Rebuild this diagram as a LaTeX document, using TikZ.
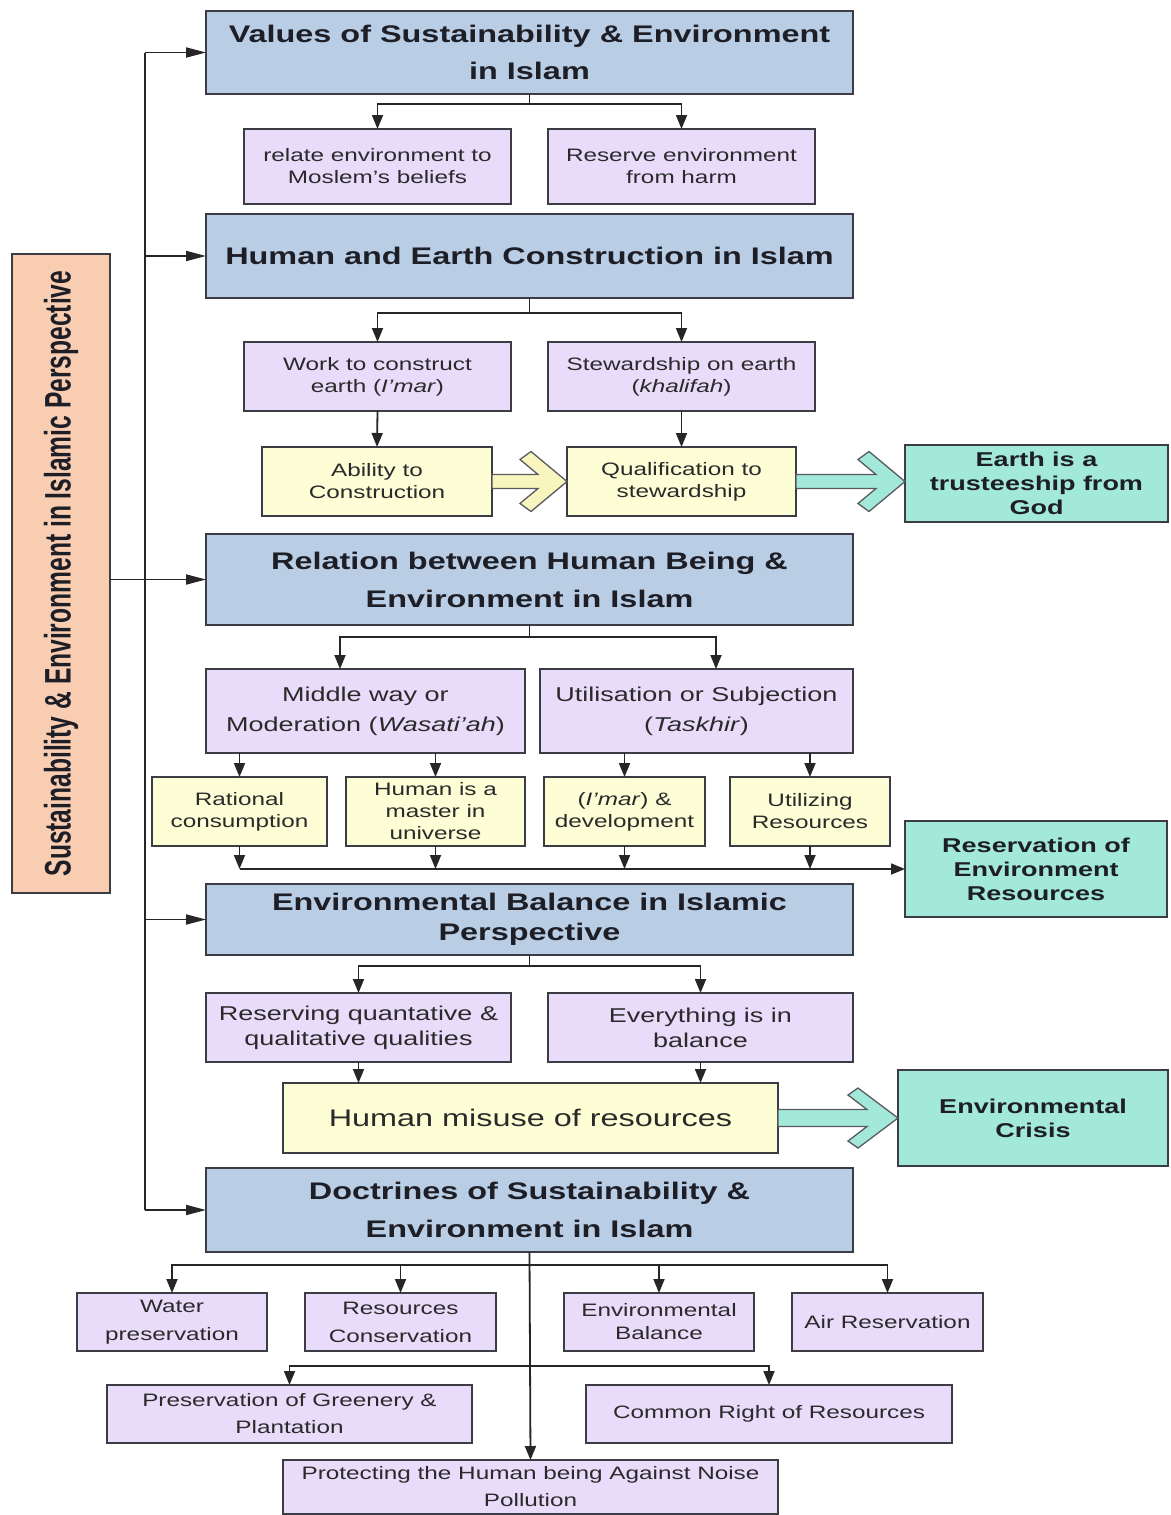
\documentclass[tikz,border=0pt]{standalone}
\usepackage{fontspec}
\setmainfont{Liberation Sans}[FakeStretch=1.35]
\newfontfamily\sidefont{Liberation Sans}
\usetikzlibrary{arrows.meta,calc}

\definecolor{hdrblue}{HTML}{B9CDE5}
\definecolor{lav}{HTML}{E8DCFA}
\definecolor{cream}{HTML}{FDFDD6}
\definecolor{mint}{HTML}{A3E9D9}
\definecolor{peach}{HTML}{F9CDB1}
\definecolor{edge}{HTML}{3C3C44}
\definecolor{ink}{HTML}{1E1E26}
\definecolor{txt}{HTML}{2A2A2A}
\definecolor{arrowyel}{HTML}{F8F6BE}

\tikzset{
  box/.style={draw=edge, line width=1.9pt, inner sep=0pt, outer sep=0pt, align=center, text=txt},
  hdr/.style={box, fill=hdrblue, text=ink, font=\bfseries\fontsize{24}{37}\selectfont},
  lavbox/.style={box, fill=lav, font=\fontsize{18}{22}\selectfont},
  creambox/.style={box, fill=cream, font=\fontsize{18}{22}\selectfont},
  mintbox/.style={box, fill=mint, text=ink, font=\bfseries\fontsize{20}{24}\selectfont},
  conn/.style={draw=black!85, line width=1.8pt},
  arr/.style={conn, -{Triangle[length=14pt,width=11pt]}},
  sidearr/.style={conn, -{Triangle[length=20pt,width=10pt]}},
  fat/.style={draw=edge!85, line width=1.3pt, line join=miter},
}

\begin{document}
\begin{tikzpicture}[x=1pt,y=-1pt]
\useasboundingbox[fill=white] (0,0) rectangle (1170,1515);

% ---- left title bar ----
\node[box, fill=peach, rotate=90, minimum width=639pt, minimum height=98pt, text=ink] (side) at (61,573.5)
  {\scalebox{1}[1.5]{\sidefont\bfseries\fontsize{24.6}{26}\selectfont Sustainability \& Environment in Islamic Perspective}};

% ---- main headers ----
\node[hdr, minimum width=647pt, minimum height=83pt] (vals) at (529.5,52.5)
  {Values of Sustainability \& Environment\\in Islam};
\node[hdr, minimum width=647pt, minimum height=84pt] (hec) at (529.5,256)
  {Human and Earth Construction in Islam};
\node[hdr, minimum width=647pt, minimum height=91pt, font=\bfseries\fontsize{24}{38}\selectfont] (rel) at (529.5,579.5)
  {Relation between Human Being \&\\Environment in Islam};
\node[hdr, minimum width=647pt, minimum height=71pt, font=\bfseries\fontsize{24}{30}\selectfont] (eb) at (529.5,919.5)
  {Environmental Balance in Islamic\\Perspective};
\node[hdr, minimum width=647pt, minimum height=84pt, font=\bfseries\fontsize{24}{38}\selectfont] (doc) at (529.5,1210)
  {Doctrines of Sustainability \&\\Environment in Islam};

% ---- values ----
\node[lavbox, minimum width=267pt, minimum height=75pt] (r1) at (377.5,166.5)
  {relate environment to\\Moslem’s beliefs};
\node[lavbox, minimum width=267pt, minimum height=75pt] (r2) at (681.5,166.5)
  {Reserve environment\\from harm};

% ---- construction ----
\node[lavbox, minimum width=267pt, minimum height=69pt] (w1) at (377.5,376.5)
  {Work to construct\\earth (\textit{I'mar})};
\node[lavbox, minimum width=267pt, minimum height=69pt] (w2) at (681.5,376.5)
  {Stewardship on earth\\(\textit{khalifah})};
\node[creambox, minimum width=230pt, minimum height=69pt] (ab) at (377,481.5)
  {Ability to\\Construction};
\node[creambox, minimum width=229pt, minimum height=69pt] (qu) at (681.5,481.5)
  {Qualification to\\stewardship};
\node[mintbox, minimum width=263pt, minimum height=77pt] (earth) at (1036.5,483.5)
  {Earth is a\\trusteeship from\\God};

% ---- relation ----
\node[lavbox, minimum width=319pt, minimum height=84pt, font=\fontsize{20}{30}\selectfont] (mid) at (365.5,711)
  {Middle way or\\Moderation (\textit{Wasati'ah})};
\node[lavbox, minimum width=313pt, minimum height=84pt, font=\fontsize{20}{30}\selectfont] (uti) at (696.5,711)
  {Utilisation or Subjection\\(\textit{Taskhir})};
\node[creambox, minimum width=175pt, minimum height=69pt] (rat) at (239.5,811.5)
  {Rational\\consumption};
\node[creambox, minimum width=179pt, minimum height=69pt] (hum) at (435.5,811.5)
  {Human is a\\master in\\universe};
\node[creambox, minimum width=161pt, minimum height=69pt] (ima) at (624.5,811.5)
  {(\textit{I'mar}) \&\\development};
\node[creambox, minimum width=160pt, minimum height=69pt] (utz) at (810,811.5)
  {Utilizing\\Resources};
\node[mintbox, minimum width=262pt, minimum height=96pt] (resv) at (1036,869)
  {Reservation of\\Environment\\Resources};

% ---- balance ----
\node[lavbox, minimum width=305pt, minimum height=69pt, font=\fontsize{20}{25}\selectfont] (req) at (358.5,1027.5)
  {Reserving quantative \&\\qualitative qualities};
\node[lavbox, minimum width=305pt, minimum height=69pt, font=\fontsize{20}{25}\selectfont] (evb) at (700.5,1027.5)
  {Everything is in\\balance};
\node[creambox, minimum width=495pt, minimum height=70pt, font=\fontsize{24}{28}\selectfont] (mis) at (530.5,1118)
  {Human misuse of resources};
\node[mintbox, minimum width=270pt, minimum height=96pt] (cri) at (1033,1118)
  {Environmental\\Crisis};

% ---- doctrines ----
\node[lavbox, minimum width=190pt, minimum height=58pt, font=\fontsize{18}{28}\selectfont] (wat) at (172,1322)
  {Water\\preservation};
\node[lavbox, minimum width=191pt, minimum height=58pt, font=\fontsize{18}{28}\selectfont] (rco) at (400.5,1322)
  {Resources\\Conservation};
\node[lavbox, minimum width=190pt, minimum height=58pt, font=\fontsize{18}{23}\selectfont] (enb) at (659,1322)
  {Environmental\\Balance};
\node[lavbox, minimum width=191pt, minimum height=58pt] (air) at (887.5,1322)
  {Air Reservation};
\node[lavbox, minimum width=365pt, minimum height=58pt, font=\fontsize{18}{27}\selectfont] (pgr) at (289.5,1414)
  {Preservation of Greenery \&\\Plantation};
\node[lavbox, minimum width=366pt, minimum height=58pt] (cmr) at (769,1414)
  {Common Right of Resources};
\node[lavbox, minimum width=495pt, minimum height=54pt, font=\fontsize{18}{27}\selectfont] (noi) at (530.5,1487)
  {Protecting the Human being Against Noise\\Pollution};

% ---- spine on the left ----
\coordinate (spine) at (145,0);
\draw[conn] (vals.west -| spine) -- (doc.west -| spine);
\draw[sidearr] (vals.west -| spine) -- (vals.west);
\draw[sidearr] (hec.west -| spine) -- (hec.west);
\draw[sidearr] (side.south |- rel.west) -- (rel.west);
\draw[sidearr] (eb.west -| spine) -- (eb.west);
\draw[sidearr] (doc.west -| spine) -- (doc.west);

% ---- branching connectors ----
\draw[conn] (vals.south) -- ++(0,10) coordinate (j1);
\draw[arr] (j1) -| (r1.north);
\draw[arr] (j1) -| (r2.north);

\draw[conn] (hec.south) -- ++(0,15) coordinate (j2);
\draw[arr] (j2) -| (w1.north);
\draw[arr] (j2) -| (w2.north);
\draw[arr] (w1.south) -- (ab.north);
\draw[arr] (w2.south) -- (qu.north);

\draw[conn] (rel.south) -- ++(0,12) coordinate (j3);
\draw[arr] (j3) -| ([xshift=-25.5pt]mid.north);
\draw[arr] (j3) -| ([xshift=19.5pt]uti.north);
\draw[arr] (rat.north |- mid.south) -- (rat.north);
\draw[arr] (hum.north |- mid.south) -- (hum.north);
\draw[arr] (ima.north |- uti.south) -- (ima.north);
\draw[arr] (utz.north |- uti.south) -- (utz.north);
\draw[arr] (rat.south) -- (rat.south |- resv.west);
\draw[arr] (hum.south) -- (hum.south |- resv.west);
\draw[arr] (ima.south) -- (ima.south |- resv.west);
\draw[arr] (utz.south) -- (utz.south |- resv.west);
\draw[arr] (rat.south |- resv.west) -- (resv.west);

\draw[conn] (eb.south) -- ++(0,11) coordinate (j4);
\draw[arr] (j4) -| (req.north);
\draw[arr] (j4) -| (evb.north);
\draw[arr] (req.south) -- (req.south |- mis.north);
\draw[arr] (evb.south) -- (evb.south |- mis.north);

\draw[arr] (doc.south) -- (noi.north);
\coordinate (j5) at ($(doc.south)+(0,13)$);
\coordinate (j6) at ($(doc.south)+(0,114)$);
\draw[arr] (j5) -| (wat.north);
\draw[arr] (j5) -| (rco.north);
\draw[arr] (j5) -| (enb.north);
\draw[arr] (j5) -| (air.north);
\draw[arr] (j6) -| (pgr.north);
\draw[arr] (j6) -| (cmr.north);

% ---- block arrows ----
\draw[fat, fill=arrowyel]
  ($(ab.east)+(0,-7)$) -- ($(qu.west)+(-29,-7)$) -- ($(qu.west)+(-47,-22)$) -- ($(qu.west)+(-36,-30)$)
  -- (qu.west) -- ($(qu.west)+(-36,30)$) -- ($(qu.west)+(-47,22)$) -- ($(qu.west)+(-29,7)$)
  -- ($(ab.east)+(0,7)$) -- cycle;
\coordinate (t1) at (qu.east -| earth.west);
\draw[fat, fill=mint]
  ($(qu.east)+(0,-7)$) -- ($(t1)+(-29,-7)$) -- ($(t1)+(-47,-22)$) -- ($(t1)+(-36,-30)$)
  -- (t1) -- ($(t1)+(-36,30)$) -- ($(t1)+(-47,22)$) -- ($(t1)+(-29,7)$)
  -- ($(qu.east)+(0,7)$) -- cycle;
\draw[fat, fill=mint]
  ($(mis.east)+(0,-8.5)$) -- ($(cri.west)+(-31,-8.5)$) -- ($(cri.west)+(-50,-23)$) -- ($(cri.west)+(-40,-30)$)
  -- (cri.west) -- ($(cri.west)+(-40,30)$) -- ($(cri.west)+(-50,23)$) -- ($(cri.west)+(-31,8.5)$)
  -- ($(mis.east)+(0,8.5)$) -- cycle;
\end{tikzpicture}
\end{document}
